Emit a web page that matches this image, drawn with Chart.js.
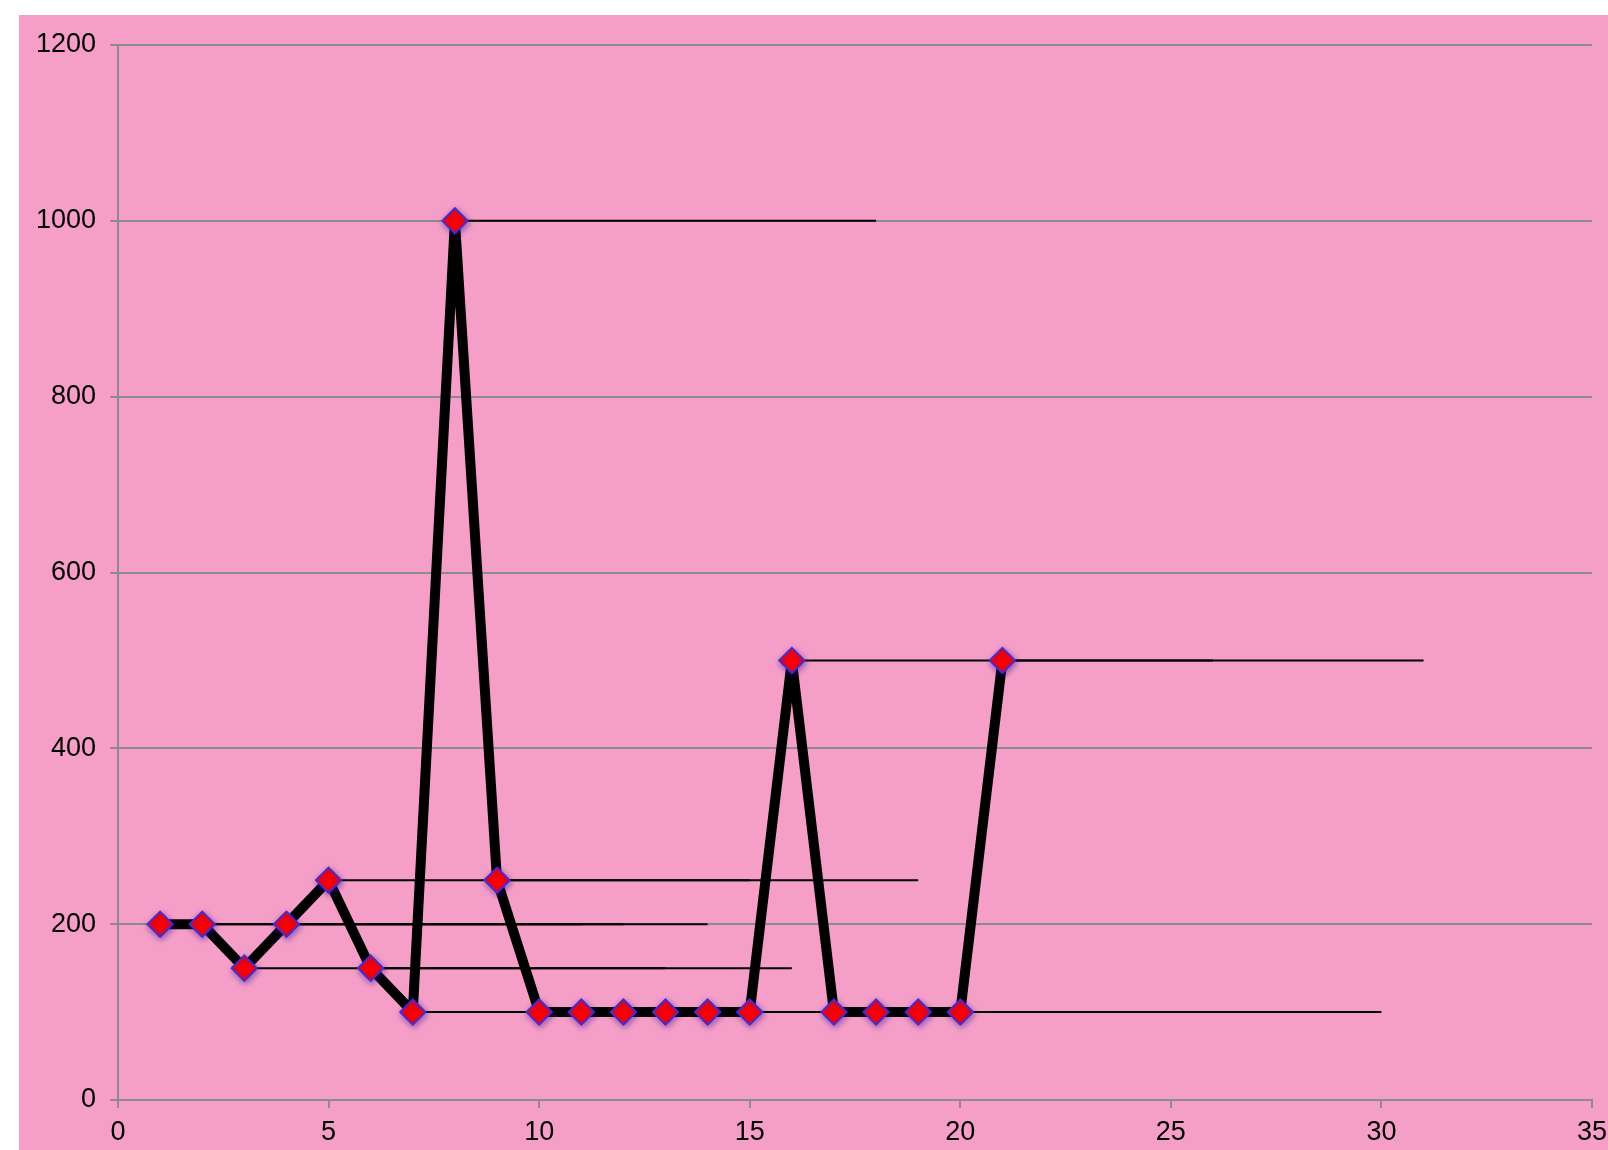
<!DOCTYPE html>
<html>
<head>
<meta charset="utf-8">
<script src="https://cdn.jsdelivr.net/npm/chart.js@4/dist/chart.umd.min.js"></script>
<style>
  html, body { margin: 0; padding: 0; background: #ffffff; }
  #wrap { position: absolute; left: 19px; top: 15px; width: 1589px; height: 1135px; background: #f59fc8; }
  canvas { display: block; }
</style>
</head>
<body>
<div id="wrap"><canvas id="c" width="1589" height="1135"></canvas></div>
<script>
// Series values
const xValues = [1, 2, 3, 4, 5, 6, 7, 8, 9, 10, 11, 12, 13, 14, 15, 16, 17, 18, 19, 20, 21];
const yValues = [200, 200, 150, 200, 250, 150, 100, 1000, 250, 100, 100, 100, 100, 100, 100, 500, 100, 100, 100, 100, 500];
// Positive horizontal error amount for each point
const xErrorPlus = [10, 10, 10, 10, 10, 10, 10, 10, 10, 10, 10, 10, 10, 10, 10, 10, 10, 10, 10, 10, 10];
// Axis ranges and ticks
const xTicks = { min: 0, max: 35, step: 5 };
const yTicks = { min: 0, max: 1200, step: 200 };

const gridGray = '#8c8c8c';
const fontFamily = '"Liberation Sans", Arial, sans-serif';

const mainPoints = xValues.map((x, i) => ({ x: x, y: yValues[i] }));

const errorSets = xValues.map((x, i) => ({
  type: 'line',
  data: [{ x: x, y: yValues[i] }, { x: x + xErrorPlus[i], y: yValues[i] }],
  borderColor: '#000000',
  borderWidth: 2,
  pointRadius: 0,
  pointHoverRadius: 0,
  fill: false,
  order: 2
}));

const mainSet = {
  type: 'line',
  data: mainPoints,
  borderColor: '#000000',
  borderWidth: 10,
  borderJoinStyle: 'round',
  pointStyle: 'rectRot',
  pointRadius: 12.5,
  pointBackgroundColor: '#ff0000',
  pointBorderColor: '#4b2bc8',
  pointBorderWidth: 1.8,
  fill: false,
  tension: 0,
  order: 1
};

// Soft halo under the markers
const markerHalo = {
  id: 'markerHalo',
  afterDatasetDraw(chart, args) {
    if (args.index !== errorSets.length) return;
    const ctx = chart.ctx;
    const meta = args.meta;
    ctx.save();
    ctx.shadowColor = 'rgba(60,20,160,0.55)';
    ctx.shadowBlur = 6;
    ctx.shadowOffsetX = 1;
    ctx.shadowOffsetY = 2;
    meta.data.forEach(pt => pt.draw(ctx, chart.chartArea));
    ctx.restore();
  }
};

new Chart(document.getElementById('c'), {
  type: 'line',
  data: { datasets: [...errorSets, mainSet] },
  options: {
    responsive: false,
    animation: false,
    events: [],
    layout: { padding: { left: 0, top: 30, right: 16, bottom: 0 } },
    plugins: { legend: { display: false }, tooltip: { enabled: false } },
    scales: {
      x: {
        type: 'linear',
        min: xTicks.min,
        max: xTicks.max,
        ticks: {
          stepSize: xTicks.step,
          color: '#000000',
          padding: 8,
          maxRotation: 0,
          font: { family: fontFamily, size: 27 },
          callback: v => String(v)
        },
        grid: { drawOnChartArea: false, drawTicks: true, tickLength: 8, color: gridGray, lineWidth: 2 },
        border: { display: true, color: gridGray, width: 2 },
        afterFit(scale) {
          scale.height = 50;
          scale.paddingLeft = 0;
          scale.paddingRight = 0;
        }
      },
      y: {
        type: 'linear',
        min: yTicks.min,
        max: yTicks.max,
        ticks: {
          stepSize: yTicks.step,
          color: '#000000',
          padding: 14,
          font: { family: fontFamily, size: 27 },
          callback: v => String(v)
        },
        grid: { drawTicks: true, tickLength: 8, color: gridGray, lineWidth: 2 },
        border: { display: true, color: gridGray, width: 2 },
        afterFit(scale) {
          scale.width = 99;
          scale.paddingTop = 0;
          scale.paddingBottom = 0;
        }
      }
    }
  },
  plugins: [markerHalo]
});
</script>
</body>
</html>
